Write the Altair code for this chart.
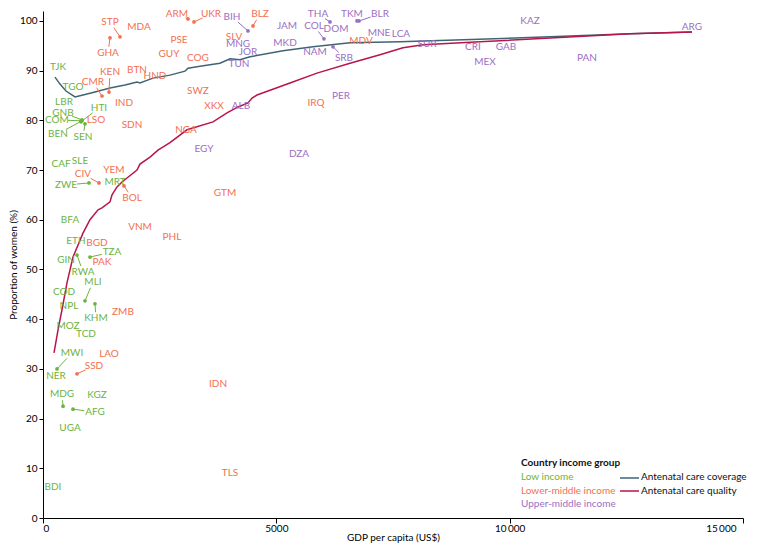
import altair as alt
import pandas as pd
import numpy as np

FONT = "Lato"
GROUPS = ["Low income", "Lower-middle income", "Upper-middle income"]
GROUP_COLORS = ["#6db33f", "#f36f4f", "#9b6fc3"]
SERIES = ["Antenatal care coverage", "Antenatal care quality"]
SERIES_COLORS = ["#3f6475", "#b8154a"]

# ---- country labels (GDP per capita, proportion of women) ----
low_iso = ["TJK", "TGO", "LBR", "GNB", "HTI", "COM", "BEN", "SEN", "CAF", "SLE",
           "ZWE", "MRT", "BFA", "ETH", "TZA", "GIN", "RWA", "MLI", "COD", "NPL",
           "KHM", "MOZ", "TCD", "MWI", "NER", "MDG", "KGZ", "AFG", "UGA", "BDI"]
low_gdp = [321, 643, 450, 429, 1200, 300, 321, 857, 386, 793,
           493, 1543, 579, 707, 1479, 493, 857, 1071, 450, 557,
           1136, 536, 921, 621, 279, 407, 1157, 1114, 579, 214]
low_pct = [90.7, 86.7, 83.7, 81.5, 82.5, 80.1, 77.3, 76.7, 71.2, 71.8,
           67.0, 67.6, 60.0, 55.7, 53.5, 51.9, 49.5, 47.5, 45.5, 42.7,
           40.2, 38.6, 37.0, 33.2, 28.6, 24.9, 24.7, 21.3, 18.1, 6.2]

lmi_iso = ["ARM", "UKR", "STP", "MDA", "GHA", "PSE", "GUY", "COG", "BTN", "HND",
           "KEN", "CMR", "IND", "SDN", "LSO", "SWZ", "XKX", "NGA", "YEM", "CIV",
           "BOL", "GTM", "VNM", "PHL", "BGD", "PAK", "ZMB", "LAO", "SSD", "IDN",
           "TLS", "IRQ", "MDV", "SLV", "BLZ"]
lmi_gdp = [2871, 3600, 1436, 2057, 1393, 2914, 2700, 3321, 2014, 2400,
           1436, 1071, 1736, 1907, 1136, 3321, 3664, 3064, 1521, 857,
           1907, 3900, 2079, 2764, 1157, 1264, 1714, 1414, 1093, 3750,
           4007, 5850, 6814, 4093, 4650]
lmi_pct = [101.4, 101.4, 99.8, 98.8, 93.6, 96.2, 93.4, 92.6, 90.1, 88.9,
           89.7, 87.7, 83.5, 79.1, 80.1, 85.9, 82.9, 78.1, 70.0, 69.2,
           64.4, 65.4, 58.6, 56.5, 55.3, 51.5, 41.4, 33.0, 30.6, 27.0,
           9.1, 83.5, 96.0, 96.8, 101.4]

umi_iso = ["BIH", "MNG", "JOR", "TUN", "ALB", "EGY", "DZA", "JAM", "MKD", "THA",
           "COL", "DOM", "NAM", "SRB", "TKM", "BLR", "MNE", "LCA", "PER", "SUR",
           "KAZ", "CRI", "GAB", "MEX", "PAN", "ARG"]
umi_gdp = [4050, 4179, 4393, 4200, 4243, 3450, 5486, 5229, 5186, 5893,
           5807, 6279, 5829, 6450, 6621, 7221, 7200, 7671, 6386, 8229,
           10436, 9214, 9921, 9471, 11657, 13907]
umi_pct = [100.8, 95.4, 93.8, 91.3, 82.9, 74.2, 73.2, 99.0, 95.6, 101.4,
           99.0, 98.4, 93.8, 92.6, 101.4, 101.4, 97.6, 97.4, 84.9, 95.4,
           100.0, 94.8, 94.8, 91.8, 92.6, 98.8]

# ---- country points drawn with a leader line to their label ----
dot_iso = ["GNB", "HTI", "COM", "BEN", "SEN", "ZWE", "TZA", "RWA", "MLI", "KHM",
           "MWI", "MDG", "AFG", "ARM", "UKR", "STP", "GHA", "KEN", "CMR", "CIV",
           "BOL", "SSD", "BLZ", "BIH", "THA", "COL", "SRB", "TKM", "BLR"]
dot_gdp = [836, 814, 814, 836, 900, 986, 1007, 729, 900, 1114,
           300, 429, 643, 3107, 3236, 1650, 1436, 1414, 1264, 1200,
           1736, 729, 4500, 4393, 6150, 6021, 6214, 6729, 6771]
dot_pct = [80.1, 79.7, 79.9, 79.9, 79.3, 67.4, 52.5, 52.9, 43.7, 43.1,
           30.0, 22.5, 21.9, 100.4, 99.8, 96.8, 96.6, 85.7, 84.9, 67.4,
           66.8, 29.0, 99.0, 98.0, 99.8, 96.4, 94.8, 100.0, 100.0]

# ---- fitted curves ----
cov_gdp = [257, 364, 493, 686, 857, 1114, 1436, 1757, 2014, 2079, 2357, 2721,
           3043, 3107, 3364, 3793, 4007, 4221, 4436, 5143, 5786, 6579, 7650,
           9000, 10864, 12579, 13907]
cov_pct = [88.7, 87.3, 85.9, 84.7, 85.1, 85.7, 86.5, 87.1, 87.7, 87.5, 88.5, 89.1,
           89.9, 90.5, 90.9, 91.5, 92.4, 92.2, 92.8, 94.0, 94.8, 95.6, 95.8,
           96.2, 96.8, 97.4, 97.8]
qual_gdp = [236, 321, 407, 514, 643, 857, 1007, 1179, 1264, 1436, 1479, 1586,
            1693, 1800, 2014, 2079, 2293, 2464, 2721, 3086, 3643, 3943, 4179,
            4393, 4479, 4586, 5293, 5871, 6579, 7221, 7714, 8143, 9364, 12579,
            13907]
qual_pct = [33.2, 37.8, 41.9, 47.3, 52.5, 57.3, 60.0, 62.0, 62.4, 63.6, 65.0, 66.6,
            67.6, 68.4, 70.0, 71.2, 72.6, 74.0, 75.5, 78.1, 79.7, 81.5, 82.7,
            83.5, 84.5, 85.1, 87.5, 89.5, 91.5, 93.2, 94.6, 95.2, 95.8, 97.4,
            97.8]

# ---- build tables ----
labels = pd.concat([
    pd.DataFrame({"iso": low_iso, "gdp": low_gdp, "pct": low_pct, "group": GROUPS[0]}),
    pd.DataFrame({"iso": lmi_iso, "gdp": lmi_gdp, "pct": lmi_pct, "group": GROUPS[1]}),
    pd.DataFrame({"iso": umi_iso, "gdp": umi_gdp, "pct": umi_pct, "group": GROUPS[2]}),
], ignore_index=True)

W, H = 700, 507
XMAX, YMAX = 15000, 102
sx, sy = W / XMAX, H / YMAX

dots = pd.DataFrame({"iso": dot_iso, "dgdp": dot_gdp, "dpct": dot_pct})
dots = dots.merge(labels, on="iso")
# leader line ends at the edge of an ellipse around the label
dx = (dots["dgdp"] - dots["gdp"]) * sx
dy = (dots["dpct"] - dots["pct"]) * sy
r = np.sqrt((dx / 11.0) ** 2 + (dy / 6.0) ** 2)
f = np.where(r > 1, 1.0 / r, 1.0)
dots["egdp"] = dots["gdp"] + (dots["dgdp"] - dots["gdp"]) * f
dots["epct"] = dots["pct"] + (dots["dpct"] - dots["pct"]) * f

curves = pd.concat([
    pd.DataFrame({"gdp": cov_gdp, "pct": cov_pct, "series": SERIES[0]}),
    pd.DataFrame({"gdp": qual_gdp, "pct": qual_pct, "series": SERIES[1]}),
], ignore_index=True)

xscale = alt.Scale(domain=[0, XMAX], nice=False)
yscale = alt.Scale(domain=[0, YMAX], nice=False)
gscale = alt.Scale(domain=GROUPS, range=GROUP_COLORS)

x_axis = alt.Axis(title="GDP per capita (US$)", values=[0, 5000, 10000, 15000],
                  labelExpr="datum.value >= 10000 ? replace(format(datum.value, ','), ',', '\u2009') : format(datum.value, 'd')",
                  labelOffset={"condition": {"test": "datum.value == 15000", "value": -7}, "value": 0},
                  tickSize=5, labelPadding=0, titlePadding=-1, grid=False)
y_axis = alt.Axis(title="Proportion of women (%)", values=list(range(0, 101, 10)),
                  tickSize=4, labelPadding=2, titlePadding=1, grid=False)

# the two curves, coloured by fixed series colours
cov_line = alt.Chart(curves).transform_filter(alt.datum.series == SERIES[0]).mark_line(
    strokeWidth=1.5, color=SERIES_COLORS[0]).encode(
    x=alt.X("gdp:Q", scale=xscale, axis=x_axis),
    y=alt.Y("pct:Q", scale=yscale, axis=y_axis),
    order="gdp:Q",
)
qual_line = alt.Chart(curves).transform_filter(alt.datum.series == SERIES[1]).mark_line(
    strokeWidth=1.5, color=SERIES_COLORS[1]).encode(
    x=alt.X("gdp:Q", scale=xscale), y=alt.Y("pct:Q", scale=yscale),
    order="gdp:Q",
)

leaders = alt.Chart(dots).mark_rule(strokeWidth=1).encode(
    x=alt.X("dgdp:Q", scale=xscale), y=alt.Y("dpct:Q", scale=yscale),
    x2="egdp:Q", y2="epct:Q",
    color=alt.Color("group:N", scale=gscale, legend=None),
)

points = alt.Chart(dots).mark_circle(size=14, opacity=1).encode(
    x=alt.X("dgdp:Q", scale=xscale), y=alt.Y("dpct:Q", scale=yscale),
    color=alt.Color("group:N", scale=gscale, legend=None),
)

texts = alt.Chart(labels).mark_text(font=FONT, fontSize=10, align="center", baseline="middle").encode(
    x=alt.X("gdp:Q", scale=xscale), y=alt.Y("pct:Q", scale=yscale),
    text="iso:N", color=alt.Color("group:N", scale=gscale, legend=None),
)

# ---- hand-drawn legend (placed in pixel space of the plot) ----
leg_title_df = pd.DataFrame({"t": ["Country income group"], "x": [478], "y": [452]})
leg_text = GROUPS + SERIES
leg_col = GROUP_COLORS + ["#111111", "#111111"]
leg_x = [478, 478, 478, 598, 598]
leg_y = [466, 480, 493, 466, 480]
legend_df = pd.DataFrame({"t": leg_text, "c": leg_col, "x": leg_x, "y": leg_y})

leg_title = alt.Chart(leg_title_df).mark_text(font=FONT, fontSize=10, fontWeight="bold",
                                              align="left", baseline="middle", color="#111111").encode(
    x=alt.X("x:Q", scale=None), y=alt.Y("y:Q", scale=None), text="t:N",
)
leg_labels = alt.Chart(legend_df).mark_text(font=FONT, fontSize=10, align="left", baseline="middle").encode(
    x=alt.X("x:Q", scale=None), y=alt.Y("y:Q", scale=None),
    text="t:N", fill=alt.Fill("c:N", scale=None),
)
leg_lines_df = pd.DataFrame({"x": [577, 577], "x2": [596, 596], "y": [467, 480], "c": SERIES_COLORS})
leg_lines = alt.Chart(leg_lines_df).mark_rule(strokeWidth=1.5).encode(
    x=alt.X("x:Q", scale=None), x2="x2:Q", y=alt.Y("y:Q", scale=None),
    stroke=alt.Stroke("c:N", scale=None),
)

chart = alt.layer(cov_line, qual_line, leaders, points, texts, leg_title, leg_labels, leg_lines).properties(
    width=W, height=H,
    autosize=alt.AutoSizeParams(type="none"),
    padding={"left": 35, "top": 3, "right": 7, "bottom": 27},
    background="white",
).configure_view(stroke=None).configure_axis(
    domainColor="#000000", tickColor="#000000", labelColor="#000000", titleColor="#000000",
    labelFont=FONT, titleFont=FONT, labelFontSize=10, titleFontSize=10,
    titleFontWeight="normal", domainWidth=1, tickWidth=1,
)

chart.save("out.html", embed_options={"renderer": "svg", "actions": False})
